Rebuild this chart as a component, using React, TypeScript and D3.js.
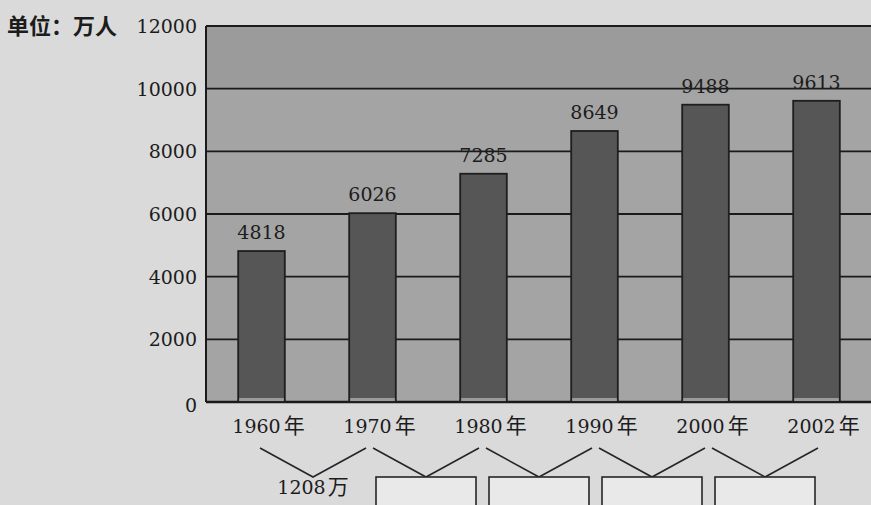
import * as d3 from "d3";

const years = ["1960", "1970", "1980", "1990", "2000", "2002"];
const population = [4818, 6026, 7285, 8649, 9488, 9613];
const yTicks = [0, 2000, 4000, 6000, 8000, 10000, 12000];
const gapLabels = ["1208万", "", "", "", ""];

const W = 871;
const H = 505;
const serif = "DejaVu Serif, serif";
const cjk = "Noto Sans CJK SC, sans-serif";

export default function App() {
  const x = d3.scaleBand<string>().domain(years).range([206, 872]).paddingInner(0.58).paddingOuter(0.29);
  const y = d3.scaleLinear().domain([0, 12000]).range([402, 26]);
  const center = (yr: string) => (x(yr) ?? 0) + x.bandwidth() / 2;
  const plotLeft = 206;
  const plotRight = 875;

  const gaps = years.slice(0, -1).map((yr, i) => {
    const a = center(yr);
    const b = center(years[i + 1]);
    return { mid: (a + b) / 2 - 4 + i * 2, label: gapLabels[i] };
  });

  return (
    <div style={{ position: "fixed", left: 0, top: 0 }}>
      <svg width={W} height={H} viewBox={`0 0 ${W} ${H}`} style={{ display: "block" }}>
        <rect width={W} height={H} fill="#dadada" />

        {/* plot background */}
        <rect x={plotLeft} y={y(12000)} width={plotRight - plotLeft} height={y(0) - y(12000)} fill="#a4a4a4" />
        <rect x={plotLeft} y={y(12000)} width={plotRight - plotLeft} height={y(10000) - y(12000)} fill="#9b9b9b" />

        {yTicks.map((t) => (
          <g key={t}>
            <line x1={plotLeft} x2={plotRight} y1={y(t)} y2={y(t)} stroke="#1a1a1a" strokeWidth={t === 0 ? 2.5 : 1.8} />
            <text x={197} y={y(t) + (t === 0 ? 10 : 7)} textAnchor="end" fontFamily={serif} fontSize={19} fill="#1c1c1c">
              {t}
            </text>
          </g>
        ))}
        <line x1={plotLeft} x2={plotLeft} y1={y(12000)} y2={y(0)} stroke="#1a1a1a" strokeWidth={2} />

        <text x={7} y={34} fontFamily={cjk} fontWeight={700} fontSize={22} fill="#1c1c1c">
          单位：万人
        </text>

        {years.map((yr, i) => {
          const bx = x(yr) ?? 0;
          const by = y(population[i]);
          return (
            <g key={yr}>
              <rect x={bx} y={by} width={x.bandwidth()} height={y(0) - by} fill="#565656" stroke="#1e1e1e" strokeWidth={1.8} />
              <rect x={bx + 1} y={y(0) - 4} width={x.bandwidth() - 2} height={3} fill="#9a9a9a" />
              <text x={center(yr)} y={by - 12} textAnchor="middle" fontFamily={serif} fontSize={19} fill="#1c1c1c">
                {population[i]}
              </text>
              <text x={center(yr) + 7} y={433} textAnchor="middle" fontFamily={serif} fontSize={19} fill="#1c1c1c">
                {yr}
                <tspan dx={3} fontFamily={cjk} fontSize={21}>
                  年
                </tspan>
              </text>
            </g>
          );
        })}

        {gaps.map((g, i) => (
          <g key={i}>
            <polyline
              points={`${g.mid - 53},448 ${g.mid},477 ${g.mid + 53},448`}
              fill="none"
              stroke="#262626"
              strokeWidth={1.6}
            />
            {g.label ? (
              <text x={g.mid} y={494} textAnchor="middle" fontFamily={serif} fontSize={19} fill="#1c1c1c">
                {g.label.replace("万", "")}
                <tspan dx={2} fontFamily={cjk} fontSize={21}>
                  万
                </tspan>
              </text>
            ) : (
              <rect x={g.mid - 50} y={477} width={100} height={34} fill="#e9e9e9" stroke="#262626" strokeWidth={1.6} />
            )}
          </g>
        ))}
      </svg>
    </div>
  );
}
